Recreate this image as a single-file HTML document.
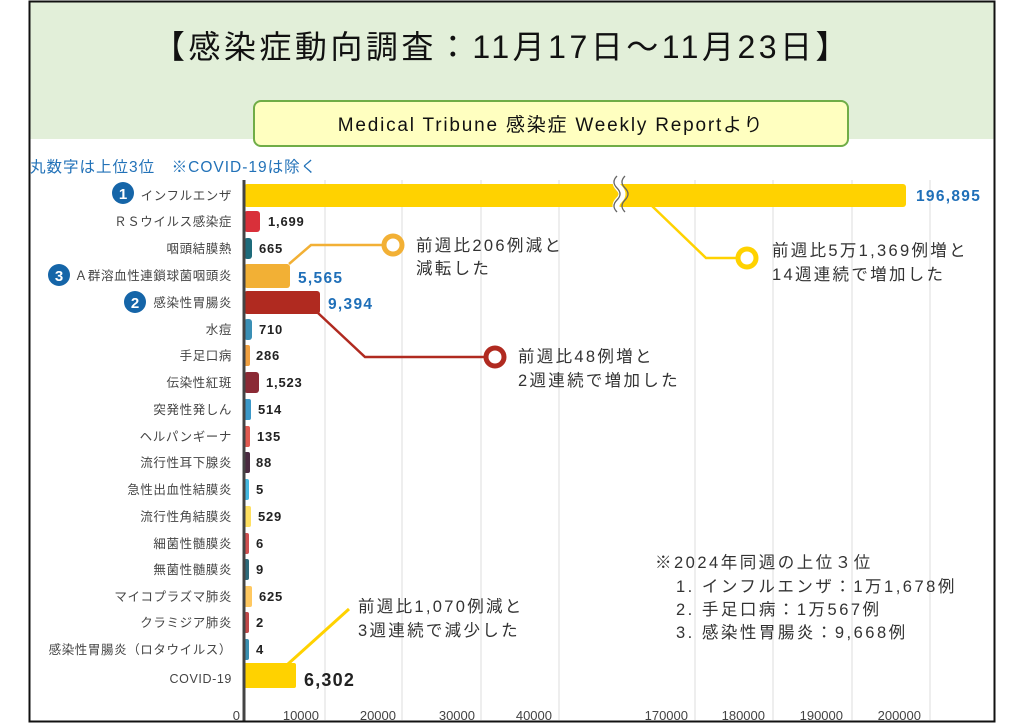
<!DOCTYPE html>
<html><head><meta charset="utf-8"><style>
html,body{margin:0;padding:0;background:#fff;}
svg{display:block;}
text{font-family:"Liberation Sans","Noto Sans CJK JP",sans-serif;}
</style></head><body>
<svg width="1024" height="724" viewBox="0 0 1024 724" xmlns="http://www.w3.org/2000/svg">
<rect x="0" y="0" width="1024" height="724" fill="#fff"/>
<rect x="29.5" y="1" width="965" height="138" fill="#e2efd9"/>
<text x="502" y="58" font-size="32" letter-spacing="3.5" text-anchor="middle" fill="#111">【感染症動向調査：11月17日～11月23日】</text>
<rect x="254" y="101" width="594" height="45" rx="7" fill="#ffffc0" stroke="#70ad47" stroke-width="2"/>
<text x="551" y="131" font-size="19" letter-spacing="1.8" text-anchor="middle" fill="#111">Medical Tribune 感染症 Weekly Reportより</text>
<text x="30" y="172" font-size="15.5" letter-spacing="1" fill="#2272b8">丸数字は上位3位　※COVID-19は除く</text>
<g stroke="#e3e3e3" stroke-width="1.2">
<line x1="325" y1="180" x2="325" y2="720"/><line x1="402" y1="180" x2="402" y2="720"/>
<line x1="481" y1="180" x2="481" y2="720"/><line x1="559" y1="180" x2="559" y2="720"/>
<line x1="695" y1="180" x2="695" y2="720"/><line x1="773" y1="180" x2="773" y2="720"/>
<line x1="852" y1="180" x2="852" y2="720"/><line x1="930" y1="180" x2="930" y2="720"/>
</g>
<g font-size="12.5" letter-spacing="0.6" fill="#444" text-anchor="end">
<text x="232" y="200">インフルエンザ</text>
<text x="232" y="226">ＲＳウイルス感染症</text>
<text x="232" y="253">咽頭結膜熱</text>
<text x="232" y="280">Ａ群溶血性連鎖球菌咽頭炎</text>
<text x="232" y="307">感染性胃腸炎</text>
<text x="232" y="334">水痘</text>
<text x="232" y="360">手足口病</text>
<text x="232" y="387">伝染性紅斑</text>
<text x="232" y="414">突発性発しん</text>
<text x="232" y="441">ヘルパンギーナ</text>
<text x="232" y="467">流行性耳下腺炎</text>
<text x="232" y="494">急性出血性結膜炎</text>
<text x="232" y="521">流行性角結膜炎</text>
<text x="232" y="548">細菌性髄膜炎</text>
<text x="232" y="574">無菌性髄膜炎</text>
<text x="232" y="601">マイコプラズマ肺炎</text>
<text x="232" y="627">クラミジア肺炎</text>
<text x="232" y="654">感染性胃腸炎（ロタウイルス）</text>
<text x="232" y="683">COVID-19</text>
</g>
<g fill="#1565a8"><circle cx="123" cy="193" r="11"/><circle cx="59" cy="275" r="11"/><circle cx="135" cy="302" r="11"/></g>
<g fill="#fff" font-size="15" font-weight="bold" text-anchor="middle"><text x="123" y="199">1</text><text x="59" y="281">3</text><text x="135" y="308">2</text></g>
<rect x="244" y="184" width="662" height="23" rx="3" fill="#ffd200"/>
<rect x="244" y="211" width="16" height="21" rx="3" fill="#d9303a"/>
<rect x="244" y="238" width="8" height="21" rx="3" fill="#1e6b7b"/>
<rect x="244" y="264" width="46" height="24" rx="3" fill="#f2b035"/>
<rect x="244" y="291" width="76" height="23" rx="3" fill="#b02a20"/>
<rect x="244" y="319" width="8" height="21" rx="3" fill="#3a8fb5"/>
<rect x="244" y="345" width="6" height="21" rx="2" fill="#f0a040"/>
<rect x="244" y="372" width="15" height="21" rx="3" fill="#8b2a35"/>
<rect x="244" y="399" width="7" height="21" rx="2" fill="#3b98c8"/>
<rect x="244" y="426" width="6" height="21" rx="2" fill="#e05a50"/>
<rect x="244" y="452" width="6" height="21" rx="2" fill="#4a2a40"/>
<rect x="244" y="479" width="5" height="21" rx="2" fill="#45b8e0"/>
<rect x="244" y="506" width="7" height="21" rx="2" fill="#ffe060"/>
<rect x="244" y="533" width="5" height="21" rx="2" fill="#d05050"/>
<rect x="244" y="559" width="5" height="21" rx="2" fill="#2e6a7a"/>
<rect x="244" y="586" width="8" height="21" rx="2" fill="#ffc860"/>
<rect x="244" y="612" width="5" height="21" rx="2" fill="#c04848"/>
<rect x="244" y="639" width="5" height="21" rx="2" fill="#3a8fb0"/>
<rect x="244" y="663" width="52" height="25" rx="2" fill="#ffd200"/>
<line x1="244" y1="180" x2="244" y2="722" stroke="#444" stroke-width="3"/>
<path d="M619 176 q-6 6 0 12 q6 6 0 12 q-6 6 0 12" fill="none" stroke="#fff" stroke-width="7"/>
<path d="M617 176 q-6 6 0 12 q6 6 0 12 q-6 6 0 12 M625 176 q-6 6 0 12 q6 6 0 12 q-6 6 0 12" fill="none" stroke="#666" stroke-width="1.3"/>
<g font-size="13" font-weight="bold" letter-spacing="0.8" fill="#222">
<text x="268" y="226">1,699</text><text x="259" y="253">665</text><text x="259" y="334">710</text>
<text x="256" y="360">286</text><text x="266" y="387">1,523</text><text x="258" y="414">514</text>
<text x="257" y="441">135</text><text x="256" y="467">88</text><text x="256" y="494">5</text>
<text x="258" y="521">529</text><text x="256" y="548">6</text><text x="256" y="574">9</text>
<text x="259" y="601">625</text><text x="256" y="627">2</text><text x="256" y="654">4</text>
</g>
<g font-size="15.5" font-weight="bold" letter-spacing="1.3" fill="#1f6fb8">
<text x="916" y="201">196,895</text><text x="298" y="283">5,565</text><text x="328" y="309">9,394</text>
</g>
<text x="304" y="686" font-size="18" font-weight="bold" letter-spacing="1.2" fill="#222">6,302</text>
<polyline points="652,206 706,258 742,258" fill="none" stroke="#ffd200" stroke-width="2.5"/>
<circle cx="747" cy="258" r="9" fill="#fff" stroke="#ffd200" stroke-width="5"/>
<polyline points="289,264 311,245 386,245" fill="none" stroke="#f2b035" stroke-width="2.5"/>
<circle cx="393" cy="245" r="9" fill="#fff" stroke="#f2b035" stroke-width="5"/>
<polyline points="318,313 365,357 487,357" fill="none" stroke="#b02a20" stroke-width="2.5"/>
<circle cx="495" cy="357" r="9" fill="#fff" stroke="#b02a20" stroke-width="5"/>
<line x1="288" y1="664" x2="349" y2="609" stroke="#ffd200" stroke-width="3"/>
<g font-size="16.5" letter-spacing="2.3" fill="#333">
<text x="772" y="256">前週比5万1,369例増と</text><text x="772" y="280">14週連続で増加した</text>
<text x="416" y="251">前週比206例減と</text><text x="416" y="274">減転した</text>
<text x="518" y="362">前週比48例増と</text><text x="518" y="386">2週連続で増加した</text>
<text x="358" y="612">前週比1,070例減と</text><text x="358" y="636">3週連続で減少した</text>
</g>
<g font-size="16.5" letter-spacing="2.5" fill="#333">
<text x="655" y="568">※2024年同週の上位３位</text>
<text x="676" y="592">1. インフルエンザ：1万1,678例</text>
<text x="676" y="615">2. 手足口病：1万567例</text>
<text x="676" y="638">3. 感染性胃腸炎：9,668例</text>
</g>
<g font-size="13" fill="#444" text-anchor="end">
<text x="240" y="720">0</text><text x="319" y="720">10000</text><text x="396" y="720">20000</text>
<text x="475" y="720">30000</text><text x="552" y="720">40000</text><text x="688" y="720">170000</text>
<text x="765" y="720">180000</text><text x="843" y="720">190000</text><text x="921" y="720">200000</text>
</g>
<rect x="29.5" y="1.5" width="965" height="720" fill="none" stroke="#111" stroke-width="2"/>
</svg>
</body></html>
